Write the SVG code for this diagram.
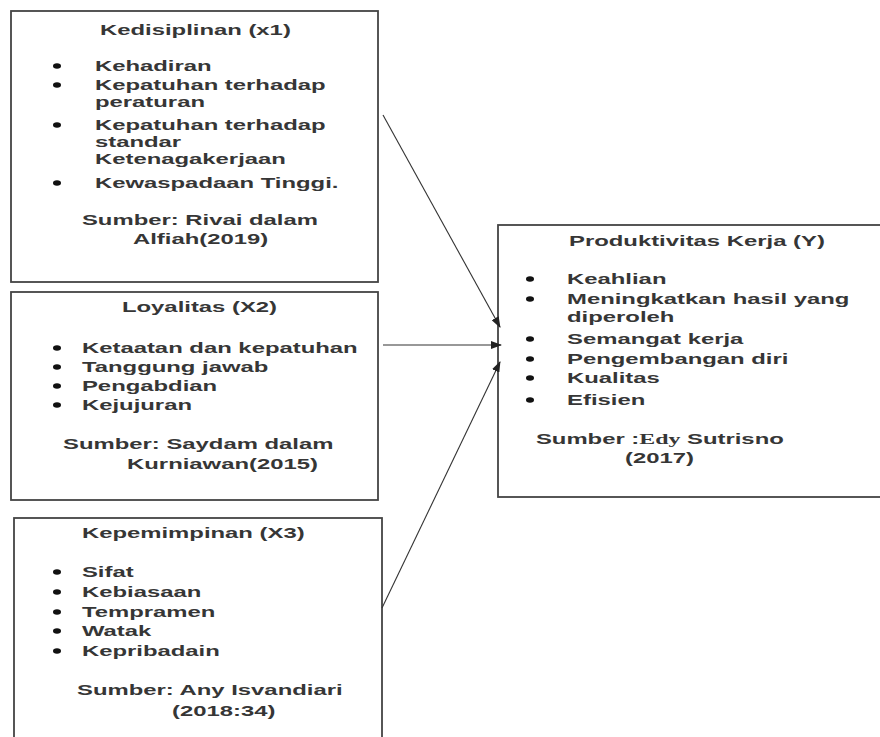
<svg xmlns="http://www.w3.org/2000/svg" width="880" height="737" viewBox="0 0 880 737">
<style>
.box{fill:#fff;stroke:#444;stroke-width:1.8}
.t{font-family:"Liberation Sans",Arial,sans-serif;font-size:14.5px;font-weight:bold;fill:#363636}
.dot{fill:#111}
.conn{stroke:#333;stroke-width:1.1;fill:none;marker-end:url(#arr)}
</style>
<defs>
<marker id="arr" markerWidth="11" markerHeight="8" refX="10" refY="4" orient="auto" markerUnits="userSpaceOnUse"><path d="M0,0 L11,4 L0,8 z" fill="#222"/></marker>
</defs>
<rect width="880" height="737" fill="#fff"/>
<g id="x1">
<rect class="box" x="11" y="11" width="367" height="271"/>
<ellipse class="dot" cx="57" cy="66" rx="4" ry="2.7"/>
<ellipse class="dot" cx="57" cy="85" rx="4" ry="2.7"/>
<ellipse class="dot" cx="57" cy="125" rx="4" ry="2.7"/>
<ellipse class="dot" cx="57" cy="183" rx="4" ry="2.7"/>
<g transform="scale(1.646,1)">
<text class="t" x="60.75" y="35">Kedisiplinan (x1)</text>
<text class="t" x="57.7" y="71">Kehadiran</text>
<text class="t" x="57.7" y="90">Kepatuhan terhadap</text>
<text class="t" x="57.7" y="107">peraturan</text>
<text class="t" x="57.7" y="130">Kepatuhan terhadap</text>
<text class="t" x="57.7" y="147">standar</text>
<text class="t" x="57.7" y="164">Ketenagakerjaan</text>
<text class="t" x="57.7" y="188">Kewaspadaan Tinggi.</text>
<text class="t" x="49.8" y="225">Sumber:  Rivai dalam</text>
<text class="t" x="80.8" y="244">Alfiah(2019)</text>
</g>
</g>
<g id="x2">
<rect class="box" x="11" y="292" width="367" height="208"/>
<ellipse class="dot" cx="57" cy="348" rx="4" ry="2.7"/>
<ellipse class="dot" cx="57" cy="367" rx="4" ry="2.7"/>
<ellipse class="dot" cx="57" cy="386" rx="4" ry="2.7"/>
<ellipse class="dot" cx="57" cy="405" rx="4" ry="2.7"/>
<g transform="scale(1.646,1)">
<text class="t" x="74.1" y="312">Loyalitas (X2)</text>
<text class="t" x="49.8" y="353">Ketaatan dan kepatuhan</text>
<text class="t" x="49.8" y="372">Tanggung jawab</text>
<text class="t" x="49.8" y="391">Pengabdian</text>
<text class="t" x="49.8" y="410">Kejujuran</text>
<text class="t" x="38.3" y="449">Sumber: Saydam dalam</text>
<text class="t" x="77.2" y="469">Kurniawan(2015)</text>
</g>
</g>
<g id="x3">
<rect class="box" x="14" y="518" width="368" height="230"/>
<ellipse class="dot" cx="57" cy="572" rx="4" ry="2.7"/>
<ellipse class="dot" cx="57" cy="592" rx="4" ry="2.7"/>
<ellipse class="dot" cx="57" cy="612" rx="4" ry="2.7"/>
<ellipse class="dot" cx="57" cy="631" rx="4" ry="2.7"/>
<ellipse class="dot" cx="57" cy="651" rx="4" ry="2.7"/>
<g transform="scale(1.646,1)">
<text class="t" x="49.8" y="538">Kepemimpinan (X3)</text>
<text class="t" x="49.8" y="577">Sifat</text>
<text class="t" x="49.8" y="597">Kebiasaan</text>
<text class="t" x="49.8" y="617">Tempramen</text>
<text class="t" x="49.8" y="636">Watak</text>
<text class="t" x="49.8" y="656">Kepribadain</text>
<text class="t" x="46.8" y="695">Sumber: Any Isvandiari</text>
<text class="t" x="104.5" y="716">(2018:34)</text>
</g>
</g>
<g id="y">
<rect class="box" x="498" y="225" width="390" height="272"/>
<ellipse class="dot" cx="530" cy="279" rx="4" ry="2.7"/>
<ellipse class="dot" cx="530" cy="299" rx="4" ry="2.7"/>
<ellipse class="dot" cx="530" cy="339" rx="4" ry="2.7"/>
<ellipse class="dot" cx="530" cy="359" rx="4" ry="2.7"/>
<ellipse class="dot" cx="530" cy="378" rx="4" ry="2.7"/>
<ellipse class="dot" cx="530" cy="400" rx="4" ry="2.7"/>
<g transform="scale(1.646,1)">
<text class="t" x="345.7" y="246">Produktivitas Kerja (Y)</text>
<text class="t" x="344.5" y="284">Keahlian</text>
<text class="t" x="344.5" y="304">Meningkatkan hasil yang</text>
<text class="t" x="344.5" y="322">diperoleh</text>
<text class="t" x="344.5" y="344">Semangat kerja</text>
<text class="t" x="344.5" y="364">Pengembangan diri</text>
<text class="t" x="344.5" y="383">Kualitas</text>
<text class="t" x="344.5" y="405">Efisien</text>
<text class="t" x="325.6" y="444">Sumber :<tspan font-family="'Liberation Serif',serif">Edy</tspan> Sutrisno</text>
<text class="t" x="379.7" y="463">(2017)</text>
</g>
</g>
<g id="connectors">
<line class="conn" x1="383" y1="115" x2="500" y2="327"/>
<line class="conn" x1="383" y1="345" x2="501" y2="345"/>
<line class="conn" x1="382" y1="608" x2="500" y2="362"/>
</g>
</svg>
